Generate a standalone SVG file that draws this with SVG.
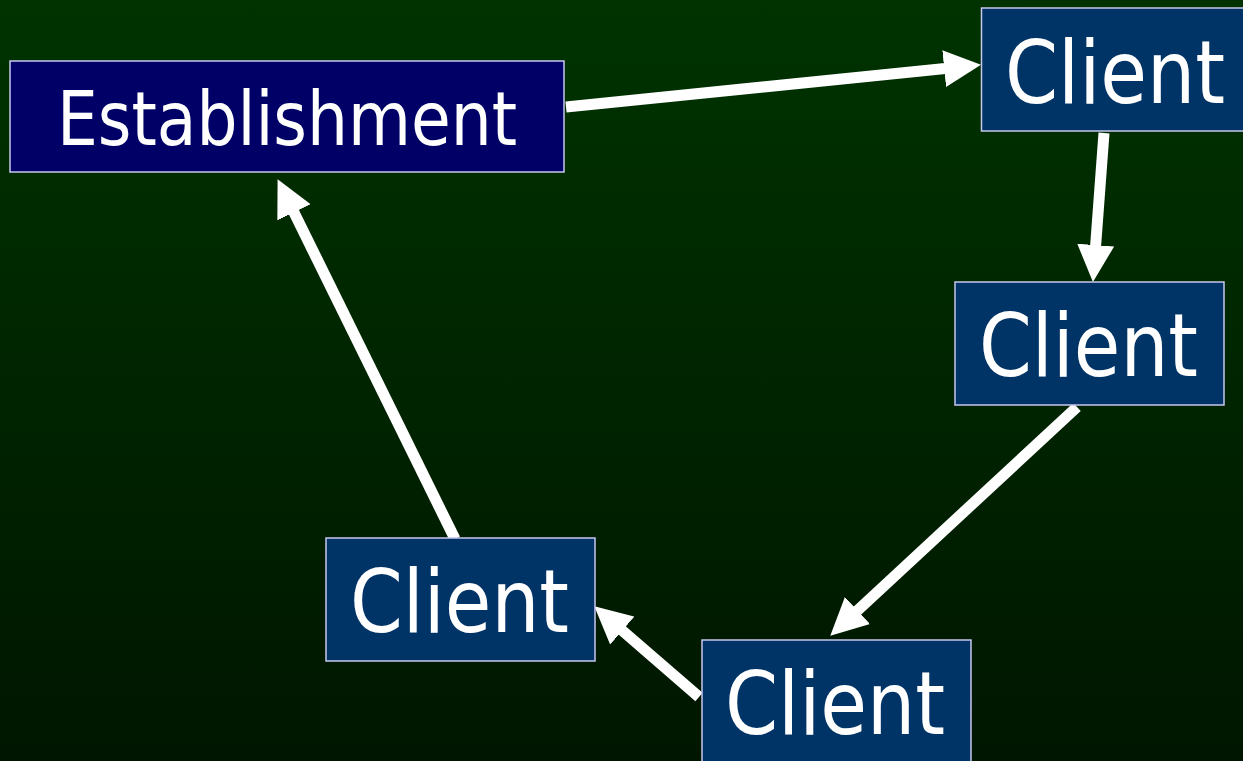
<svg xmlns="http://www.w3.org/2000/svg" width="1243" height="761" viewBox="0 0 1243 761">
  <defs>
    <linearGradient id="bg" x1="0" y1="0" x2="0" y2="1">
      <stop offset="0" stop-color="#003300"/>
      <stop offset="1" stop-color="#001600"/>
    </linearGradient>
    <marker id="head" markerUnits="userSpaceOnUse" viewBox="0 0 36 36" markerWidth="37" markerHeight="37" refX="1" refY="18" orient="auto">
      <path d="M0,0 L36,18 L0,36 Z" fill="#ffffff"/>
    </marker>
    <style>
      .box { stroke: #c8c8f0; stroke-width: 1.5; }
      .est { fill: #000066; }
      .cli { fill: #003366; }
      .lbl { fill: #ffffff; font-family: "DejaVu Sans Condensed", "DejaVu Sans", "Liberation Sans", sans-serif; text-anchor: middle; }
      .big { font-size: 88px; }
      .mid { font-size: 75px; }
      .conn { stroke: #ffffff; stroke-width: 11; fill: none; marker-end: url(#head); }
    </style>
  </defs>

  <rect width="1243" height="761" fill="url(#bg)"/>

  <g id="connectors">
    <line class="conn" x1="566" y1="107" x2="945.2" y2="68.5"/>
    <line class="conn" x1="1104" y1="133" x2="1095.6" y2="246.1"/>
    <line class="conn" x1="1077" y1="407" x2="856.7" y2="611.2"/>
    <line class="conn" x1="699" y1="697" x2="621.5" y2="629.9"/>
    <line class="conn" x1="455" y1="539" x2="293.5" y2="211.4"/>
  </g>

  <g id="establishment">
    <rect class="box est" x="10" y="61" width="554" height="111"/>
    <text class="lbl mid" x="287" y="145" textLength="460" lengthAdjust="spacingAndGlyphs">Establishment</text>
  </g>

  <g id="client-1">
    <rect class="box cli" x="981.5" y="8" width="270" height="123"/>
    <text class="lbl big" x="1115" y="103" textLength="220" lengthAdjust="spacingAndGlyphs">Client</text>
  </g>

  <g id="client-2">
    <rect class="box cli" x="955" y="282" width="269" height="123"/>
    <text class="lbl big" x="1088.5" y="376" textLength="219" lengthAdjust="spacingAndGlyphs">Client</text>
  </g>

  <g id="client-3">
    <rect class="box cli" x="702" y="640" width="269" height="130"/>
    <text class="lbl big" x="835" y="734" textLength="220" lengthAdjust="spacingAndGlyphs">Client</text>
  </g>

  <g id="client-4">
    <rect class="box cli" x="326" y="538" width="269" height="123"/>
    <text class="lbl big" x="459.5" y="632" textLength="219" lengthAdjust="spacingAndGlyphs">Client</text>
  </g>
</svg>
